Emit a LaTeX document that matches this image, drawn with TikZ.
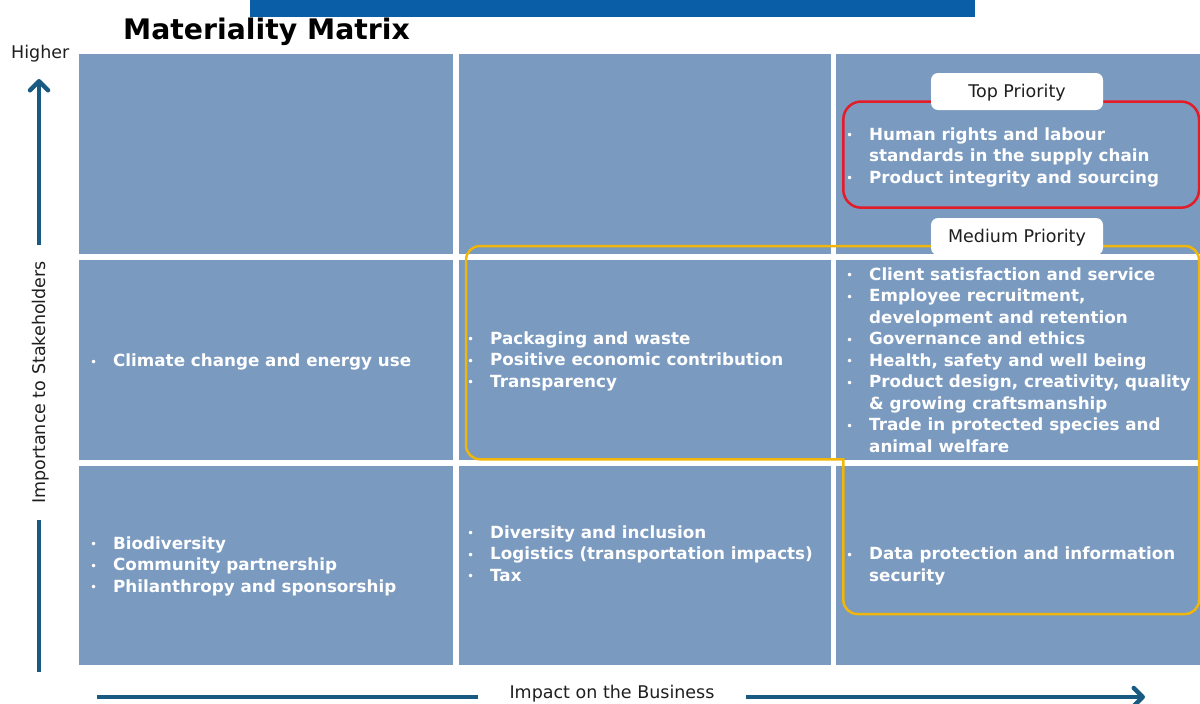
\documentclass[tikz,border=0pt]{standalone}
\usepackage{fontspec}
\setmainfont{DejaVu Sans}
\usetikzlibrary{arrows.meta,calc}

\definecolor{cellblue}{RGB}{122,154,192}
\definecolor{barblue}{RGB}{10,94,168}
\definecolor{axisblue}{RGB}{24,90,130}
\definecolor{prred}{RGB}{228,28,40}
\definecolor{pryellow}{RGB}{240,182,10}
\definecolor{inktext}{RGB}{30,30,30}

% bullet and continuation indents for the list entries
\newcommand{\itm}{\makebox[23pt][l]{\raisebox{0.4pt}{\fontsize{12}{12}\selectfont\mdseries\textbullet}}}
\newcommand{\cnt}{\hspace*{23pt}}

\begin{document}
\begin{tikzpicture}[x=1pt,y=-1pt,
  cell/.style={fill=cellblue},
  items/.style={anchor=west, inner sep=0pt, text=white,
    font=\bfseries\fontsize{16.75}{21.5}\selectfont},
  prio/.style={fill=white, rounded corners=7, minimum width=172, minimum height=37,
    inner sep=0pt, text height=12.76pt, text depth=0pt, text=inktext,
    font=\fontsize{17.5}{21}\selectfont},
  axislabel/.style={inner sep=0pt, text height=12.76pt, text depth=0pt, text=inktext,
    font=\fontsize{17.5}{21}\selectfont},
  axisline/.style={draw=axisblue, line width=4.5pt},
  axistip/.style={-{Straight Barb[round,length=9pt,width=18pt]}},
]
\useasboundingbox (0,0) rectangle (1200,704);
\clip (0,0) rectangle (1200,704);

% heading band and title
\fill[barblue] (250,0) rectangle (975,16.5);
\node[anchor=base west, inner sep=0pt, text=black,
  font=\bfseries\fontsize{28.3}{34}\selectfont] (title) at (123,39.5) {Materiality Matrix};

% the 3 x 3 matrix
\foreach \xa/\xb in {79/453, 458.5/830.5, 836/1200}
  \foreach \ya/\yb in {53.5/253.5, 259.5/459.5, 465.5/664.5}
    \fill[cell] (\xa,\ya) rectangle (\xb,\yb);

% priority outlines
\draw[prred, line width=2.5pt, rounded corners=18] (843.3,101.5) rectangle (1199,207.7);
\draw[pryellow, line width=2.5pt, rounded corners=14]
  (843.3,458.05) -- (843.3,614) -- (1199,614) -- (1199,246) -- (466,246)
  -- (466,459.3) -- (844.55,459.3);

\node[prio] (top) at (1017,91.5) {Top Priority};
\node[prio] (med) at (1017,236.5) {Medium Priority};

% cell contents
\node[items] (hr) at (846,157.5) {\begin{tabular}{@{}l@{}}
  \itm Human rights and labour\\
  \cnt standards in the supply chain\\
  \itm Product integrity and sourcing
\end{tabular}};

\node[items] (climate) at (90,362.5) {\begin{tabular}{@{}l@{}}
  \itm Climate change and energy use
\end{tabular}};

\node[items] (pack) at (467,361.5) {\begin{tabular}{@{}l@{}}
  \itm Packaging and waste\\
  \itm Positive economic contribution\\
  \itm Transparency
\end{tabular}};

\node[items] (client) at (846,362) {\begin{tabular}{@{}l@{}}
  \itm Client satisfaction and service\\
  \itm Employee recruitment,\\
  \cnt development and retention\\
  \itm Governance and ethics\\
  \itm Health, safety and well being\\
  \itm Product design, creativity, quality\\
  \cnt \& growing craftsmanship\\
  \itm Trade in protected species and\\
  \cnt animal welfare
\end{tabular}};

\node[items] (bio) at (90,566.5) {\begin{tabular}{@{}l@{}}
  \itm Biodiversity\\
  \itm Community partnership\\
  \itm Philanthropy and sponsorship
\end{tabular}};

\node[items] (div) at (467,555.5) {\begin{tabular}{@{}l@{}}
  \itm Diversity and inclusion\\
  \itm Logistics (transportation impacts)\\
  \itm Tax
\end{tabular}};

\node[items] (data) at (846,566) {\begin{tabular}{@{}l@{}}
  \itm Data protection and information\\
  \cnt security
\end{tabular}};

% vertical axis: two segments with the label in the gap
\node[anchor=base west, inner sep=0pt, text=inktext,
  font=\fontsize{17.5}{21}\selectfont] (higher) at (11,58.5) {Higher};
\coordinate (ybot) at (39,672);
\coordinate (ylo)  at (39,520);
\coordinate (yhi)  at (39,245);
\coordinate (ytop) at (39,79);
\node[axislabel, rotate=90] (ylab) at ($(ylo)!0.5!(yhi)+(-0.3,0)$) {Importance to Stakeholders};
\draw[axisline] (ybot) -- (ylo);
\draw[axisline, axistip] (yhi) -- (ytop);

% horizontal axis: two segments with the label in the gap
\coordinate (xl)  at (97,697);
\coordinate (xlm) at (478,697);
\coordinate (xrm) at (746,697);
\coordinate (xr)  at (1145,697);
\node[axislabel] (xlab) at ($(xlm)!0.5!(xrm)+(0,-5)$) {Impact on the Business};
\draw[axisline] (xl) -- (xlm);
\draw[axisline, axistip] (xrm) -- (xr);
\end{tikzpicture}
\end{document}
